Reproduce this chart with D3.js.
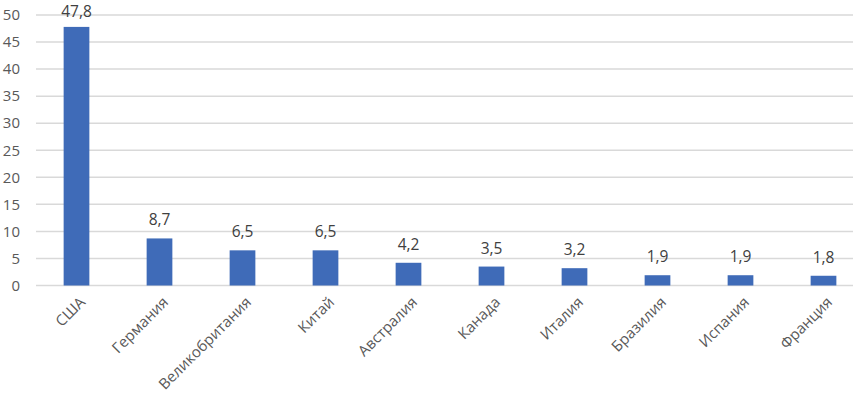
<!DOCTYPE html>
<html><head><meta charset="utf-8">
<script src="https://cdn.jsdelivr.net/npm/d3@7"></script>
<style>body{margin:0;background:#fff;overflow:hidden}svg{display:block}</style>
</head><body>
<svg id="c" width="853" height="398"></svg>
<script>
const categories = ["США","Германия","Великобритания","Китай","Австралия","Канада","Италия","Бразилия","Испания","Франция"];
const values = [47.8, 8.7, 6.5, 6.5, 4.2, 3.5, 3.2, 1.9, 1.9, 1.8];
const yTicks = [0,5,10,15,20,25,30,35,40,45,50];

const svg = d3.select("#c");
const font = "'Open Sans', 'Noto Sans', sans-serif";
const x = d3.scaleBand().domain(categories).range([35, 865]).paddingInner(0.69).paddingOuter(0.345);
const y = d3.scaleLinear().domain([0,50]).range([285.5, 15]);
const fmt = v => String(v).replace(".", ",");

svg.append("g").selectAll("line").data(yTicks).join("line")
  .attr("x1", 36).attr("x2", 853)
  .attr("y1", d => y(d)).attr("y2", d => y(d))
  .attr("stroke", "#d9d9d9").attr("stroke-width", 1.5);

svg.append("g").selectAll("text").data(yTicks).join("text")
  .attr("x", 20).attr("y", d => y(d)).attr("dy", "0.35em")
  .attr("text-anchor", "end").attr("font-family", font).attr("font-size", 15)
  .attr("fill", "#595959").text(d => d);

svg.append("g").selectAll("rect").data(values).join("rect")
  .attr("x", (d,i) => x(categories[i])).attr("width", x.bandwidth())
  .attr("y", d => y(d)).attr("height", d => y(0) - y(d))
  .attr("fill", "#3f6bb8");

svg.append("g").selectAll("text").data(values).join("text")
  .attr("x", (d,i) => x(categories[i]) + x.bandwidth()/2)
  .attr("y", d => Math.max(y(d) - 13, 17))
  .attr("text-anchor", "middle").attr("font-family", font).attr("font-size", 15.5)
  .attr("fill", "#404040").text(d => fmt(d));

svg.append("g").selectAll("text").data(categories).join("text")
  .attr("transform", d => `translate(${x(d) + x.bandwidth()/2 + 6},${y(0) + 14}) rotate(-45)`)
  .attr("text-anchor", "end").attr("dy", "0.35em").attr("font-family", font).attr("font-size", 15)
  .attr("fill", "#595959").text(d => d);
</script>
</body></html>
